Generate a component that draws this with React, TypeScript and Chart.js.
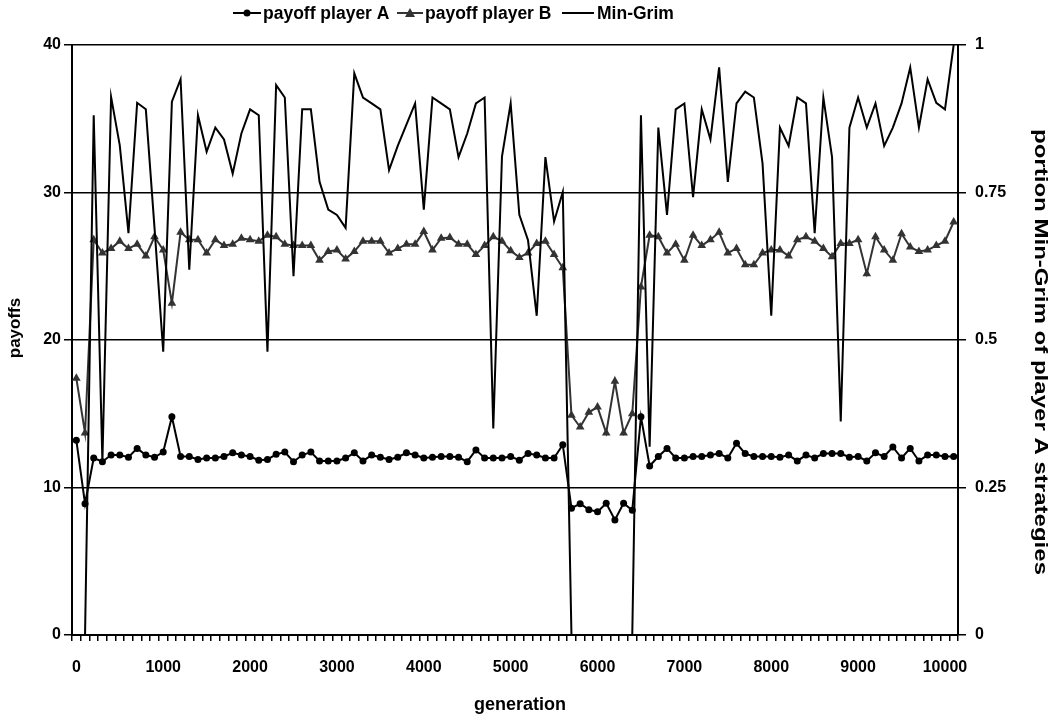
import React, { useEffect, useRef } from "react";
import { Chart, registerables } from "chart.js";

Chart.register(...registerables);

const generations = [
  "0", "100", "200", "300", "400", "500", "600", "700", "800", "900",
  "1000", "1100", "1200", "1300", "1400", "1500", "1600", "1700", "1800", "1900",
  "2000", "2100", "2200", "2300", "2400", "2500", "2600", "2700", "2800", "2900",
  "3000", "3100", "3200", "3300", "3400", "3500", "3600", "3700", "3800", "3900",
  "4000", "4100", "4200", "4300", "4400", "4500", "4600", "4700", "4800", "4900",
  "5000", "5100", "5200", "5300", "5400", "5500", "5600", "5700", "5800", "5900",
  "6000", "6100", "6200", "6300", "6400", "6500", "6600", "6700", "6800", "6900",
  "7000", "7100", "7200", "7300", "7400", "7500", "7600", "7700", "7800", "7900",
  "8000", "8100", "8200", "8300", "8400", "8500", "8600", "8700", "8800", "8900",
  "9000", "9100", "9200", "9300", "9400", "9500", "9600", "9700", "9800", "9900",
  "10000", "10100",
];

const payoffA = [
  13.2, 8.9, 12.0, 11.75, 12.2, 12.2, 12.05, 12.65, 12.2, 12.05,
  12.4, 14.8, 12.1, 12.1, 11.9, 12.0, 12.0, 12.1, 12.35, 12.2,
  12.1, 11.85, 11.9, 12.25, 12.4, 11.75, 12.2, 12.4, 11.8, 11.8,
  11.8, 12.0, 12.35, 11.8, 12.2, 12.05, 11.9, 12.05, 12.35, 12.2,
  12.0, 12.05, 12.1, 12.1, 12.05, 11.75, 12.55, 12.0, 12.0, 12.0,
  12.1, 11.85, 12.3, 12.2, 12.0, 12.0, 12.9, 8.6, 8.9, 8.5,
  8.35, 8.93, 7.8, 8.93, 8.45, 14.8, 11.46, 12.1, 12.65, 12.0,
  12.0, 12.1, 12.1, 12.2, 12.3, 12.0, 13.0, 12.3, 12.1, 12.1,
  12.1, 12.05, 12.2, 11.8, 12.2, 12.0, 12.3, 12.3, 12.3, 12.05,
  12.1, 11.8, 12.35, 12.1, 12.75, 12.0, 12.65, 11.8, 12.2, 12.2,
  12.1, 12.1,
];

const payoffB = [
  17.4, 13.7, 26.8, 25.9, 26.2, 26.7, 26.2, 26.5, 25.7, 27.0,
  26.1, 22.5, 27.3, 26.8, 26.8, 25.9, 26.8, 26.4, 26.5, 26.9,
  26.8, 26.7, 27.1, 27.0, 26.5, 26.4, 26.4, 26.4, 25.4, 26.0,
  26.1, 25.5, 26.0, 26.7, 26.7, 26.7, 25.9, 26.2, 26.5, 26.5,
  27.35, 26.1, 26.9, 26.95, 26.5, 26.5, 25.8, 26.4, 27.0, 26.7,
  26.05, 25.6, 25.9, 26.55, 26.7, 25.8, 24.9, 14.9, 14.1, 15.1,
  15.45, 13.7, 17.2, 13.7, 15.0, 23.6, 27.1, 27.0, 25.9, 26.5,
  25.4, 27.1, 26.4, 26.8, 27.3, 25.9, 26.2, 25.1, 25.1, 25.9,
  26.1, 26.1, 25.7, 26.8, 27.0, 26.7, 26.2, 25.65, 26.55, 26.55,
  26.8, 24.5, 27.0, 26.1, 25.4, 27.2, 26.3, 26.0, 26.1, 26.4,
  26.7, 28.0,
];

const minGrim = [
  0, 0, 0.881, 0.294, 0.912, 0.83, 0.681, 0.902, 0.891, 0.69,
  0.48, 0.904, 0.942, 0.619, 0.881, 0.819, 0.86, 0.84, 0.782, 0.85,
  0.891, 0.881, 0.48, 0.932, 0.911, 0.608, 0.891, 0.891, 0.768, 0.721,
  0.712, 0.69, 0.952, 0.911, 0.901, 0.891, 0.788, 0.829, 0.865, 0.901,
  0.721, 0.911, 0.901, 0.891, 0.81, 0.85, 0.901, 0.911, 0.35, 0.811,
  0.901, 0.712, 0.669, 0.541, 0.81, 0.701, 0.751, 0, 0, 0,
  0, 0, 0, 0, 0, 0.881, 0.319, 0.86, 0.712, 0.891,
  0.901, 0.742, 0.891, 0.84, 0.962, 0.768, 0.901, 0.921, 0.911, 0.799,
  0.541, 0.86, 0.829, 0.911, 0.901, 0.681, 0.911, 0.81, 0.362, 0.86,
  0.911, 0.86, 0.901, 0.829, 0.86, 0.901, 0.962, 0.86, 0.942, 0.902,
  0.891, 1.0,
];

const rightTicks = ["0", "0.25", "0.5", "0.75", "1"];
const seriesNames = ["payoff player A", "payoff player B", "Min-Grim"];
const leftTitle = "payoffs";
const rightTitle = "portion Min-Grim of player A strategies";
const xTitle = "generation";

const FONT_FAMILY = '"Liberation Sans", Arial, Helvetica, sans-serif';
const tickFont = { family: FONT_FAMILY, size: 16, weight: "bold" as const };

const annotationPlugin = {
  id: "customLegendAndTitles",
  afterDraw(chart: any) {
    const ctx = chart.ctx as CanvasRenderingContext2D;
    ctx.save();
    ctx.font = `bold 17.5px ${FONT_FAMILY}`;
    ctx.textBaseline = "middle";
    ctx.textAlign = "left";
    const y = 13;
    // legend item A
    ctx.strokeStyle = "#000";
    ctx.lineWidth = 2;
    ctx.beginPath();
    ctx.moveTo(233, y);
    ctx.lineTo(261, y);
    ctx.stroke();
    ctx.fillStyle = "#000";
    ctx.beginPath();
    ctx.arc(247, y, 3.5, 0, Math.PI * 2);
    ctx.fill();
    ctx.fillText(seriesNames[0], 263, y + 1);
    // legend item B
    ctx.strokeStyle = "#333";
    ctx.beginPath();
    ctx.moveTo(397, y);
    ctx.lineTo(423, y);
    ctx.stroke();
    ctx.fillStyle = "#333";
    ctx.beginPath();
    ctx.moveTo(410, y - 5);
    ctx.lineTo(415, y + 4);
    ctx.lineTo(405, y + 4);
    ctx.closePath();
    ctx.fill();
    ctx.fillStyle = "#000";
    ctx.fillText(seriesNames[1], 425, y + 1);
    // legend item Min-Grim
    ctx.strokeStyle = "#000";
    ctx.beginPath();
    ctx.moveTo(562, y);
    ctx.lineTo(594, y);
    ctx.stroke();
    ctx.fillText(seriesNames[2], 597, y + 1);

    // axis titles
    ctx.textAlign = "center";
    ctx.font = `bold 18px ${FONT_FAMILY}`;
    ctx.fillText(xTitle, 520, 705);

    ctx.save();
    ctx.font = `bold 17px ${FONT_FAMILY}`;
    ctx.translate(15, 328);
    ctx.rotate(-Math.PI / 2);
    ctx.fillText(leftTitle, 0, 0);
    ctx.restore();

    ctx.save();
    ctx.font = `bold 18px ${FONT_FAMILY}`;
    const w = ctx.measureText(rightTitle).width;
    ctx.translate(1040, 352);
    ctx.rotate(Math.PI / 2);
    ctx.scale(446 / w, 1);
    ctx.fillText(rightTitle, 0, 0);
    ctx.restore();

    ctx.restore();
  },
};

export default function App() {
  const canvasRef = useRef<HTMLCanvasElement | null>(null);

  useEffect(() => {
    if (!canvasRef.current) return;
    const chart = new Chart(canvasRef.current, {
      type: "line",
      data: {
        labels: generations,
        datasets: [
          {
            label: seriesNames[0],
            data: payoffA,
            yAxisID: "y",
            borderColor: "#000",
            backgroundColor: "#000",
            borderWidth: 2,
            pointStyle: "circle",
            pointRadius: 3.5,
            pointBorderWidth: 0,
            pointBackgroundColor: "#000",
            tension: 0,
            order: 2,
          },
          {
            label: seriesNames[1],
            data: payoffB,
            yAxisID: "y",
            borderColor: "#333",
            backgroundColor: "#333",
            borderWidth: 2,
            pointStyle: "triangle",
            pointRadius: 5,
            pointBorderWidth: 0,
            pointBackgroundColor: "#333",
            tension: 0,
            order: 1,
          },
          {
            label: seriesNames[2],
            data: minGrim,
            yAxisID: "y1",
            borderColor: "#000",
            backgroundColor: "#000",
            borderWidth: 2,
            pointRadius: 0,
            tension: 0,
            order: 0,
          },
        ],
      },
      options: {
        responsive: false,
        animation: false,
        devicePixelRatio: 1,
        layout: { padding: { top: 45, left: 0, right: 0, bottom: 0 } },
        plugins: {
          legend: { display: false },
          tooltip: { enabled: false },
        },
        scales: {
          x: {
            type: "category",
            offset: true,
            grid: {
              display: true,
              drawOnChartArea: false,
              drawTicks: true,
              tickLength: 6,
              offset: true,
              color: "#000",
              lineWidth: 1.5,
            },
            border: { display: true, color: "#000", width: 2 },
            ticks: {
              autoSkip: false,
              maxRotation: 0,
              minRotation: 0,
              padding: 17,
              color: "#000",
              font: tickFont,
              callback: (_v: any, i: number) => (i % 10 === 0 ? generations[i] : ""),
            },
            title: { display: false },
            afterFit: (s: any) => {
              s.height = 83;
            },
          },
          y: {
            position: "left",
            min: 0,
            max: 40,
            ticks: { stepSize: 10, padding: 3, color: "#000", font: tickFont },
            grid: { color: "#000", lineWidth: 1.5, tickLength: 8, drawTicks: true },
            border: { display: true, color: "#000", width: 2 },
            title: { display: false },
            afterFit: (s: any) => {
              s.width = 72;
            },
          },
          y1: {
            position: "right",
            min: 0,
            max: 1,
            ticks: {
              stepSize: 0.25,
              padding: 9,
              color: "#000",
              font: tickFont,
              callback: (_v: any, i: number) => rightTicks[i],
            },
            grid: {
              drawOnChartArea: false,
              color: "#000",
              lineWidth: 1.5,
              tickLength: 8,
              drawTicks: true,
            },
            border: { display: true, color: "#000", width: 2 },
            title: { display: false },
            afterFit: (s: any) => {
              s.width = 95;
            },
          },
        },
      },
      plugins: [annotationPlugin],
    });
    return () => chart.destroy();
  }, []);

  return (
    <div style={{ position: "absolute", left: 0, top: 0, width: 1053, height: 718, background: "#fff" }}>
      <canvas ref={canvasRef} width={1053} height={718} />
    </div>
  );
}
